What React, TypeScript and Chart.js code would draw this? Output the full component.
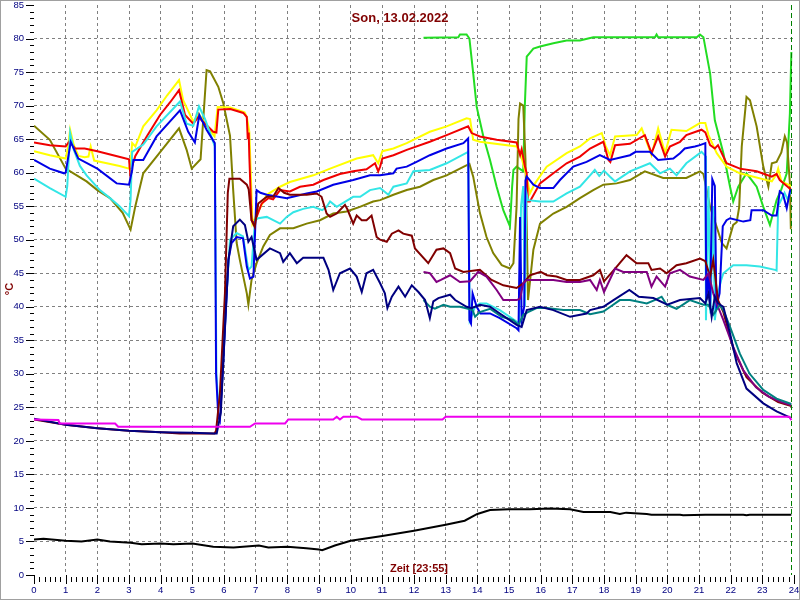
import React, { useEffect, useRef } from "react";
import { Chart, registerables } from "chart.js";

Chart.register(...registerables);

type P = [number, number];

const TITLE = "Son, 13.02.2022";
const X_TITLE = "Zeit [23:55]";
const Y_TITLE = "°C";
const NOW_HOUR = 23 + 55 / 60;
const X_MIN = 0;
const X_MAX = 24;
const Y_MIN = 0;
const Y_MAX = 85;

// [hour, °C]
const yellowSeries: P[] = [
  [0, 63.2], [0.5, 62.6], [1, 62.1], [1.08, 64], [1.14, 66.4], [1.25, 64.2], [1.4, 62.5], [1.6, 62.3], [1.72, 62.4], [1.79, 63.9],
  [1.9, 61.8], [2.3, 61.4], [2.7, 61], [3.0, 60.6], [3.05, 61.5], [3.1, 64.4], [3.2, 63.9], [3.45, 66.9], [3.87, 69.3], [4.2, 71.5],
  [4.58, 73.8], [4.71, 70.8], [5.03, 67.6], [5.2, 68.8], [5.45, 67], [5.7, 65.4], [5.8, 69.8], [6.2, 69.7], [6.65, 69], [6.72, 68.3],
  [6.8, 66.1], [6.9, 52.4], [7.08, 54.2], [7.35, 56.7], [7.77, 57.9], [8.08, 58.6], [8.82, 59.6], [9.35, 60.6], [10.19, 62.1], [10.71, 62.6],
  [10.87, 61.4], [11.0, 63.2], [11.35, 63.6], [11.77, 64.4], [12.5, 66.1], [13.03, 66.9], [13.66, 68.1], [13.77, 68], [13.87, 64.9], [14.08, 64.6],
  [15.24, 63.9], [15.35, 63], [15.56, 59.4], [15.66, 56.9], [15.82, 58.4], [16.19, 60.9], [16.82, 62.9], [17.24, 63.9], [17.56, 65.1], [17.93, 65.9],
  [18.05, 64], [18.19, 62.6], [18.35, 65.4], [19.03, 65.6], [19.19, 66.6], [19.5, 62.6], [19.71, 66.6], [19.93, 62.9], [20.13, 66.4], [20.6, 66.2],
  [21.03, 67.4], [21.2, 67.4], [21.3, 65.6], [21.56, 62.9], [21.87, 60.9], [22.29, 59.9], [23.3, 58.7], [23.45, 59.8], [23.5, 60.6], [23.6, 58.7],
  [NOW_HOUR, 58],
];

const redSeries: P[] = [
  [0, 64.5], [0.5, 64.1], [1, 63.9], [1.12, 64.7], [1.3, 63.6], [1.6, 63.6], [2, 63.2], [2.5, 62.6], [3.0, 62.0], [3.05, 59.3],
  [3.1, 61], [3.2, 62.5], [3.56, 65.4], [3.98, 68.6], [4.3, 70.5], [4.58, 72.3], [4.77, 68.6], [5.03, 67.3], [5.19, 68.3], [5.66, 66.1],
  [5.76, 66], [5.82, 69.4], [6.2, 69.5], [6.61, 68.9], [6.72, 68.3], [6.75, 65], [6.78, 66], [6.8, 62.4], [6.87, 52.9], [6.95, 52.4],
  [7.19, 55.4], [7.4, 56.2], [7.55, 56], [7.77, 57.4], [8.08, 57.2], [8.4, 57.9], [8.82, 58.2], [9.14, 58.9], [9.66, 59.8], [10.08, 60.2],
  [10.5, 60.5], [10.77, 61.4], [10.87, 60.2], [10.93, 60.9], [11.0, 62.1], [11.35, 62.6], [11.77, 63.4], [12.5, 64.6], [13.03, 65.6], [13.71, 66.9],
  [13.82, 65.9], [14.08, 65.4], [14.61, 64.9], [15.24, 64.5], [15.35, 62.6], [15.4, 63.5], [15.5, 61], [15.56, 59.9], [15.6, 55.7], [15.66, 55.7],
  [15.98, 58.4], [16.4, 59.9], [16.82, 61.4], [17.24, 62.4], [17.56, 63.6], [17.98, 64.6], [18.14, 61.9], [18.2, 61.6], [18.35, 64.1], [18.82, 64.3],
  [19.29, 65.6], [19.5, 62.9], [19.71, 65.4], [19.93, 62.4], [20.08, 63.9], [20.4, 64.6], [20.6, 65.6], [21.08, 66.4], [21.2, 66], [21.35, 64.1],
  [21.5, 63.6], [21.6, 64.1], [21.72, 62.9], [21.87, 61.4], [22.29, 60.6], [22.82, 60.2], [23.3, 59.4], [23.45, 59.8], [23.55, 58.9], [23.8, 57.9],
  [NOW_HOUR, 57.4],
];

const blueSeries: P[] = [
  [0, 61.9], [0.5, 60.6], [0.95, 59.9], [1.0, 60], [1.16, 64.6], [1.4, 62.1], [2, 60.6], [2.61, 58.4], [3, 58.2], [3.1, 60.4],
  [3.14, 61.9], [3.45, 61.9], [3.87, 65.4], [4.61, 69.3], [4.87, 66.1], [5.08, 64.5], [5.22, 68.6], [5.45, 66.4], [5.71, 64.4], [5.75, 30],
  [5.82, 23.6], [5.87, 23], [5.98, 32], [6.14, 47], [6.24, 49.5], [6.4, 50.4], [6.6, 50.2], [6.72, 46], [6.82, 44.2], [6.93, 44.5],
  [7.03, 57.4], [7.15, 57], [7.35, 56.7], [7.98, 56.2], [8.61, 56.9], [8.93, 57.2], [9.45, 58.2], [10.08, 58.9], [10.61, 59.6], [10.93, 59.6],
  [11.35, 59.9], [11.45, 60.6], [11.77, 60.9], [12.08, 61.6], [12.5, 62.6], [13.03, 63.6], [13.56, 64.4], [13.71, 65.1], [13.75, 38], [13.8, 37.5],
  [13.85, 42], [13.98, 40], [14.1, 39], [14.4, 39], [14.71, 38.3], [15.24, 36.8], [15.3, 36.5], [15.35, 53.4], [15.4, 38], [15.48, 40],
  [15.52, 58.8], [15.56, 59.4], [15.77, 58.2], [15.98, 57.7], [16.4, 57.7], [16.61, 58.9], [17.03, 60.9], [17.45, 61.6], [17.87, 62.6], [18.19, 61.9],
  [18.82, 62.6], [19, 63.1], [19.45, 63.1], [19.71, 61.9], [20.19, 62.1], [20.4, 62.9], [20.55, 63.6], [20.87, 63.9], [21.03, 64.1], [21.2, 64.4],
  [21.23, 41], [21.3, 45], [21.35, 40], [21.42, 59], [21.5, 58], [21.55, 40], [21.65, 42], [21.75, 52], [21.87, 52.9], [21.98, 53.2],
  [22.4, 52.7], [22.62, 52.9], [22.66, 54.4], [23.03, 54.4], [23.3, 53.6], [23.45, 53.6], [23.55, 57.2], [23.65, 56.8], [23.77, 54.7], [23.87, 57.2],
  [NOW_HOUR, 57.5],
];

const cyanSeries: P[] = [
  [0, 59.1], [0.5, 57.7], [1, 56.4], [1.05, 58], [1.14, 65.9], [1.25, 63.5], [1.45, 61], [1.66, 59.6], [2.08, 57.4], [2.4, 56.2],
  [2.7, 55], [3, 53.5], [3.05, 56], [3.1, 63.1], [3.45, 64.2], [3.87, 66.9], [4.61, 70.6], [4.82, 67.3], [5.03, 67], [5.21, 69.9],
  [5.4, 68], [5.71, 63.9], [5.76, 30], [5.82, 25], [5.92, 27], [6.08, 42], [6.19, 50], [6.4, 51], [6.6, 50.5], [6.77, 45.5],
  [6.87, 46], [6.98, 52.9], [7.08, 53.2], [7.35, 53.4], [7.77, 52.4], [7.98, 53.4], [8.19, 54.1], [8.5, 54.6], [8.82, 54.9], [9.1, 54.4],
  [9.24, 54.9], [9.35, 55.7], [9.56, 54.9], [10.08, 56.4], [10.3, 56.4], [10.61, 57.4], [10.93, 57.7], [11.19, 56.7], [11.35, 57.9], [11.77, 58.4],
  [11.98, 60.2], [12.5, 60.4], [13.03, 61.4], [13.71, 63.1], [13.76, 38], [13.85, 39], [13.93, 40], [14.08, 40.5], [14.29, 40.5], [14.71, 39.5],
  [15.24, 37.8], [15.32, 37.5], [15.38, 55], [15.45, 58], [15.5, 40], [15.55, 57], [15.6, 55.9], [15.98, 55.7], [16.4, 55.7], [16.82, 56.9],
  [17.24, 57.9], [17.56, 59.6], [17.71, 60.4], [17.85, 59.5], [18, 60.3], [18.19, 59.4], [18.35, 58.7], [18.82, 60.2], [19.45, 61.4], [19.77, 59.9],
  [20.08, 60.6], [20.29, 59.6], [20.6, 61.4], [21.08, 63.1], [21.2, 62.5], [21.22, 38], [21.3, 58], [21.36, 39], [21.45, 55], [21.5, 38],
  [21.6, 42], [21.7, 44], [21.77, 45], [22.08, 46.2], [22.5, 46.2], [22.92, 46], [23.4, 45.5], [23.45, 45.4], [23.5, 55], [23.7, 57],
  [23.8, 56], [NOW_HOUR, 57.5],
];

const oliveSeries: P[] = [
  [0, 67], [0.5, 64.9], [1, 60.6], [1.35, 59.6], [1.66, 58.7], [2, 57.4], [2.4, 56.2], [2.8, 54], [3.05, 51.5], [3.2, 55],
  [3.45, 59.9], [3.87, 62.4], [4.58, 66.6], [4.82, 63.4], [4.98, 60.6], [5.26, 62], [5.45, 75.3], [5.56, 75.1], [5.82, 72.8], [5.98, 70.3],
  [6.19, 65.5], [6.29, 57.4], [6.4, 49.5], [6.5, 47], [6.61, 44.5], [6.72, 42], [6.77, 40.3], [6.87, 44], [7.03, 46.5], [7.24, 49],
  [7.45, 50.7], [7.77, 51.7], [8.19, 51.7], [8.61, 52.4], [9.03, 52.9], [9.45, 53.9], [9.87, 54.2], [10.29, 54.9], [10.71, 55.7], [10.93, 55.9],
  [11.35, 56.7], [11.77, 57.4], [12.19, 57.9], [12.61, 58.9], [13.03, 59.6], [13.45, 60.6], [13.75, 61.3], [13.87, 59.4], [14.08, 54], [14.29, 50.4],
  [14.5, 48], [14.77, 46.2], [15.03, 45.7], [15.14, 46.5], [15.24, 55], [15.3, 68], [15.35, 70.3], [15.45, 70], [15.52, 62], [15.56, 52],
  [15.6, 41], [15.77, 48.5], [15.98, 52.4], [16.4, 53.9], [16.82, 54.9], [17.24, 56.2], [17.66, 57.4], [17.98, 58.2], [18.4, 58.4], [18.82, 58.9],
  [19.29, 60.2], [19.87, 59.2], [20.6, 59.2], [21.03, 60.2], [21.14, 59.8], [21.35, 54.9], [21.56, 51.9], [21.72, 49.5], [21.87, 48.7], [22.08, 52.2],
  [22.19, 52.6], [22.27, 54.9], [22.35, 63.9], [22.5, 71.3], [22.61, 70.8], [22.82, 66.9], [23.03, 60.9], [23.19, 57.9], [23.3, 61.4], [23.45, 61.6],
  [23.6, 63], [23.71, 65.4], [23.78, 64.5], [23.87, 58.4], [23.9, 51.7], [NOW_HOUR, 51.7],
];

const maroonSeries: P[] = [
  [0, 23.2], [1, 22.4], [2, 21.9], [3, 21.5], [4, 21.3], [4.6, 21.1], [5.7, 21.1], [5.75, 21.5], [5.87, 27], [6.03, 42],
  [6.12, 57], [6.17, 59.1], [6.5, 59.1], [6.72, 58.2], [6.78, 57.5], [6.87, 52.9], [6.97, 51.9], [7.08, 55.4], [7.35, 56.4], [7.55, 56.4],
  [7.72, 57.7], [7.9, 57.0], [8.08, 56.7], [8.61, 56.7], [8.93, 56.9], [9.08, 56.4], [9.24, 53.9], [9.35, 53.4], [9.56, 53.9], [9.82, 55.2],
  [9.9, 54.5], [10.08, 52.4], [10.19, 53.6], [10.35, 52.9], [10.5, 52.9], [10.66, 53.6], [10.82, 50.4], [10.93, 50], [11.14, 49.7], [11.3, 50.9],
  [11.51, 51.4], [11.66, 50.9], [11.93, 50.6], [12.03, 48.7], [12.45, 46.5], [12.71, 48.5], [12.93, 48.7], [13.14, 48], [13.3, 45.7], [13.56, 45.2],
  [14.08, 45.5], [14.45, 44], [14.82, 43.2], [15.24, 42.8], [15.45, 43.5], [15.66, 44.7], [16, 45.2], [16.2, 44.7], [16.5, 44.5], [16.82, 44],
  [17.24, 44], [17.66, 44.7], [17.87, 45.5], [18, 43.8], [18.35, 45.7], [18.71, 47.7], [19.03, 46.5], [19.4, 46.5], [19.5, 45.5], [19.77, 45.7],
  [19.98, 45], [20.29, 46.2], [20.6, 46.5], [21.03, 47.2], [21.2, 46.8], [21.35, 44.5], [21.45, 47], [21.6, 41], [21.77, 39.2], [22.1, 33.5],
  [22.5, 29.5], [23, 27.2], [23.5, 25.8], [NOW_HOUR, 25.2],
];

const purpleSeries: P[] = [
  [12.3, 45.2], [12.5, 45], [12.71, 43.7], [12.85, 44], [13.14, 44.7], [13.45, 43.7], [13.77, 43.8], [14.03, 45.2], [14.29, 44.5], [14.61, 42.5],
  [14.82, 41], [15.24, 41], [15.35, 41.2], [15.45, 43.5], [15.56, 44], [15.87, 44], [16.4, 44], [16.82, 43.7], [17.24, 43.7], [17.56, 44],
  [17.77, 42.5], [17.87, 44], [18, 42.2], [18.35, 45.7], [18.61, 45.2], [19.35, 45.2], [19.5, 43], [19.66, 44.5], [19.93, 43], [20.08, 45],
  [20.4, 45.5], [20.71, 44.5], [21.14, 44], [21.3, 45], [21.45, 42], [21.6, 40], [21.77, 38], [22.08, 34], [22.4, 30.5], [22.8, 28],
  [23.2, 26.6], [23.6, 25.8], [NOW_HOUR, 25.3],
];

const tealSeries: P[] = [
  [12.3, 41], [12.5, 40], [12.66, 39.7], [12.93, 40.3], [13.14, 40], [13.45, 40], [13.71, 39.7], [13.85, 39.5], [13.93, 38.5], [14.08, 39.2],
  [14.4, 39.7], [14.77, 38.5], [15.14, 38], [15.3, 37.3], [15.45, 38.8], [15.6, 39.2], [15.87, 39.8], [16.19, 39.8], [16.72, 39.5], [17.24, 39.5],
  [17.56, 38.9], [17.98, 39.3], [18.2, 40], [18.5, 41], [18.82, 41], [19.35, 40.5], [19.6, 41], [19.82, 41.5], [19.98, 40.3], [20.29, 39.7],
  [20.71, 41], [21.14, 40.3], [21.3, 40.3], [21.45, 38.8], [21.66, 40.3], [21.77, 39.5], [21.98, 37], [22.29, 33], [22.6, 30], [23.03, 27.6],
  [23.45, 26.3], [NOW_HOUR, 25.5],
];

const navySeries: P[] = [
  [0, 23.3], [1, 22.4], [2, 21.9], [3, 21.5], [4, 21.3], [5, 21.2], [5.66, 21.1], [5.77, 21.1], [5.9, 24.2], [6.03, 37],
  [6.14, 47], [6.29, 52], [6.5, 53], [6.66, 52.2], [6.77, 49.7], [6.87, 50.4], [7.03, 47], [7.45, 48.7], [7.77, 48], [7.87, 46.7],
  [8.08, 48], [8.3, 46.5], [8.5, 47.3], [9.14, 47.3], [9.3, 45.5], [9.45, 42.5], [9.66, 45], [9.98, 45.7], [10.19, 44.5], [10.35, 42.2],
  [10.5, 45], [10.71, 45.5], [10.93, 43.5], [11.08, 42], [11.16, 39.8], [11.3, 41.5], [11.51, 43], [11.72, 41.5], [11.93, 43.2], [12.14, 42.2],
  [12.35, 41], [12.5, 38.3], [12.61, 40.8], [12.77, 41.3], [13.14, 41.8], [13.3, 41], [13.66, 40], [13.82, 39.8], [14.08, 40.3], [14.4, 40],
  [14.71, 39], [14.93, 38.3], [15.24, 37.3], [15.4, 37], [15.56, 39.5], [15.98, 40], [16.4, 39.5], [16.93, 38.5], [17.45, 39], [17.56, 39.5],
  [17.98, 40], [18.3, 41], [18.8, 42.5], [19.1, 41.5], [19.56, 41.3], [20, 40.3], [20.4, 41], [21.03, 41.3], [21.2, 40.5], [21.3, 42],
  [21.4, 38.5], [21.5, 41.5], [21.6, 40.5], [21.77, 40], [21.98, 36], [22.19, 31.6], [22.5, 27.8], [23.03, 25.6], [23.45, 24.4], [NOW_HOUR, 23.4],
];

const magentaSeries: P[] = [
  [0, 23.2], [0.77, 23.1], [0.81, 22.6], [2.56, 22.6], [2.66, 22.1], [6.82, 22.1], [6.98, 22.6], [7.93, 22.6], [8.03, 23.2], [9.45, 23.2],
  [9.56, 23.6], [9.66, 23.2], [9.77, 23.6], [10.19, 23.6], [10.35, 23.2], [12.9, 23.2], [13.0, 23.6], [23.85, 23.6], [NOW_HOUR, 23.1],
];

const blackSeries: P[] = [
  [0, 5.3], [0.3, 5.4], [1, 5.1], [1.5, 5.0], [2, 5.3], [2.4, 5.0], [3.05, 4.8], [3.4, 4.6], [4, 4.7], [4.4, 4.6],
  [5, 4.7], [5.66, 4.2], [6.3, 4.1], [7.1, 4.4], [7.4, 4.1], [8, 4.2], [8.6, 4.0], [9, 3.8], [9.1, 3.7], [9.5, 4.4],
  [10, 5.1], [11, 5.8], [12, 6.6], [13, 7.5], [13.6, 8.1], [14, 9.1], [14.4, 9.7], [15, 9.8], [15.66, 9.8], [16.3, 9.9],
  [16.93, 9.8], [17.35, 9.4], [18.2, 9.4], [18.5, 9.1], [18.7, 9.3], [19.35, 9.1], [19.5, 9.0], [20.4, 9.0], [20.5, 8.9], [21.2, 9.0],
  [22.4, 9.0], [22.5, 8.9], [22.6, 9.0], [NOW_HOUR, 9.0],
];

const greenSeries: P[] = [
  [12.3, 80.1], [13.4, 80.2], [13.45, 80.6], [13.66, 80.6], [13.75, 80], [13.87, 74.8], [13.98, 69.8], [14.19, 65.4], [14.4, 61.9], [14.61, 57.9],
  [14.82, 54.4], [15.03, 52], [15.1, 58], [15.14, 60.4], [15.24, 60.9], [15.45, 60.2], [15.5, 70], [15.56, 77.3], [15.77, 78.5], [15.98, 78.8],
  [16.4, 79.3], [16.82, 79.7], [17.24, 79.7], [17.66, 80.2], [19.61, 80.2], [19.66, 80.6], [19.71, 80.2], [20.93, 80.2], [21.03, 80.6], [21.14, 80.2],
  [21.35, 74.8], [21.5, 67.8], [21.77, 62.9], [21.98, 57.9], [22.08, 55.7], [22.24, 57.9], [22.5, 59.9], [22.82, 57.9], [23.03, 54.9], [23.24, 52.2],
  [23.45, 55.9], [23.6, 57.5], [23.77, 59.9], [23.87, 68.8], [NOW_HOUR, 78],
];

// top-most first
const SERIES: { name: string; data: P[]; color: string }[] = [
  { name: "black", data: blackSeries, color: "#000000" },
  { name: "magenta", data: magentaSeries, color: "#ee00ee" },
  { name: "navy", data: navySeries, color: "#000080" },
  { name: "teal", data: tealSeries, color: "#008080" },
  { name: "purple", data: purpleSeries, color: "#800080" },
  { name: "maroon", data: maroonSeries, color: "#800000" },
  { name: "blue", data: blueSeries, color: "#0000e6" },
  { name: "cyan", data: cyanSeries, color: "#33e6e6" },
  { name: "red", data: redSeries, color: "#f00000" },
  { name: "yellow", data: yellowSeries, color: "#ffff00" },
  { name: "olive", data: oliveSeries, color: "#808000" },
  { name: "green", data: greenSeries, color: "#22dd22" },
];

const FONT = "'Liberation Sans', Arial, sans-serif";
const DARK_RED = "#800000";
const NAVY = "#000080";

const decorPlugin = {
  id: "decor",
  beforeDraw(chart: any) {
    const ctx = chart.ctx as CanvasRenderingContext2D;
    ctx.save();
    ctx.fillStyle = "#ffffff";
    ctx.fillRect(0, 0, chart.width, chart.height);
    ctx.restore();
  },
  afterDraw(chart: any) {
    const ctx = chart.ctx as CanvasRenderingContext2D;
    const xs = chart.scales.x;
    const ys = chart.scales.y;
    const area = chart.chartArea;
    ctx.save();
    // axis tick marks
    ctx.strokeStyle = "#000000";
    ctx.lineWidth = 1;
    ctx.setLineDash([]);
    ctx.beginPath();
    for (let i = 0; i <= (X_MAX - X_MIN) * 6; i++) {
      const px = Math.round(xs.getPixelForValue(X_MIN + i / 6)) + 0.5;
      const major = i % 6 === 0;
      ctx.moveTo(px, area.bottom + (major ? 0 : 2));
      ctx.lineTo(px, area.bottom + (major ? 9 : 7));
    }
    for (let v = Y_MIN; v <= Y_MAX; v++) {
      const py = Math.round(ys.getPixelForValue(v)) + 0.5;
      const major = v % 5 === 0;
      ctx.moveTo(area.left - (major ? 8 : 4), py);
      ctx.lineTo(area.left, py);
    }
    ctx.stroke();

    // current-time marker
    const nx = Math.round(xs.getPixelForValue(NOW_HOUR)) + 0.5;
    ctx.strokeStyle = "#008000";
    ctx.setLineDash([5, 3]);
    ctx.beginPath();
    ctx.moveTo(nx, area.top);
    ctx.lineTo(nx, area.bottom);
    ctx.stroke();
    ctx.setLineDash([]);

    // texts
    ctx.fillStyle = DARK_RED;
    ctx.textBaseline = "middle";
    ctx.textAlign = "center";
    ctx.font = `bold 13px ${FONT}`;
    ctx.fillText(TITLE, 400, 18);
    ctx.font = `bold 11px ${FONT}`;
    ctx.fillText(X_TITLE, 419, 569);
    ctx.translate(10, 289);
    ctx.rotate(-Math.PI / 2);
    ctx.fillText(Y_TITLE, 0, 0);
    ctx.restore();

    // outer frame
    ctx.save();
    ctx.strokeStyle = "#a0a0a0";
    ctx.lineWidth = 1;
    ctx.strokeRect(0.5, 0.5, chart.width - 1, chart.height - 1);
    ctx.restore();
  },
};

export default function App() {
  const ref = useRef<HTMLCanvasElement>(null);

  useEffect(() => {
    if (!ref.current) return;
    const chart = new Chart(ref.current, {
      type: "line",
      data: {
        datasets: SERIES.map((s) => ({
          label: s.name,
          data: s.data.map(([x, y]) => ({ x, y })),
          borderColor: s.color,
          backgroundColor: s.color,
          borderWidth: 2,
          pointRadius: 0,
          tension: 0,
          fill: false,
        })),
      },
      options: {
        responsive: false,
        animation: false,
        devicePixelRatio: 1,
        parsing: true,
        layout: { padding: { top: 5, right: 6, left: 0, bottom: 0 } },
        plugins: {
          legend: { display: false },
          tooltip: { enabled: false },
          title: { display: false },
        },
        scales: {
          x: {
            type: "linear",
            min: X_MIN,
            max: X_MAX,
            position: "bottom",
            border: { display: false, dash: [3, 3] },
            grid: {
              drawTicks: false,
              lineWidth: 1,
              color: (c: any) =>
                c.tick && (c.tick.value === X_MIN || c.tick.value === X_MAX) ? "rgba(0,0,0,0)" : "#808080",
            },
            ticks: {
              stepSize: 1,
              autoSkip: false,
              maxRotation: 0,
              padding: 10,
              color: NAVY,
              font: { family: FONT, size: 9.5 },
              callback: (v: any) => String(v),
            },
            afterFit: (s: any) => {
              s.height = 25;
              s.paddingLeft = 0;
              s.paddingRight = 0;
            },
          },
          y: {
            type: "linear",
            min: Y_MIN,
            max: Y_MAX,
            position: "left",
            border: { display: false, dash: [3, 3] },
            grid: {
              drawTicks: false,
              lineWidth: 1,
              color: (c: any) =>
                c.tick && (c.tick.value === Y_MIN || c.tick.value === Y_MAX) ? "rgba(0,0,0,0)" : "#808080",
            },
            ticks: {
              stepSize: 5,
              padding: 10,
              color: NAVY,
              font: { family: FONT, size: 9.5 },
            },
            afterFit: (s: any) => {
              s.width = 34;
              s.paddingTop = 0;
              s.paddingBottom = 0;
            },
          },
        },
      },
      plugins: [decorPlugin],
    } as any);
    return () => chart.destroy();
  }, []);

  return (
    <div style={{ position: "fixed", left: 0, top: 0, width: 800, height: 600, background: "#ffffff" }}>
      <canvas ref={ref} width={800} height={600} style={{ display: "block", width: 800, height: 600 }} />
    </div>
  );
}
